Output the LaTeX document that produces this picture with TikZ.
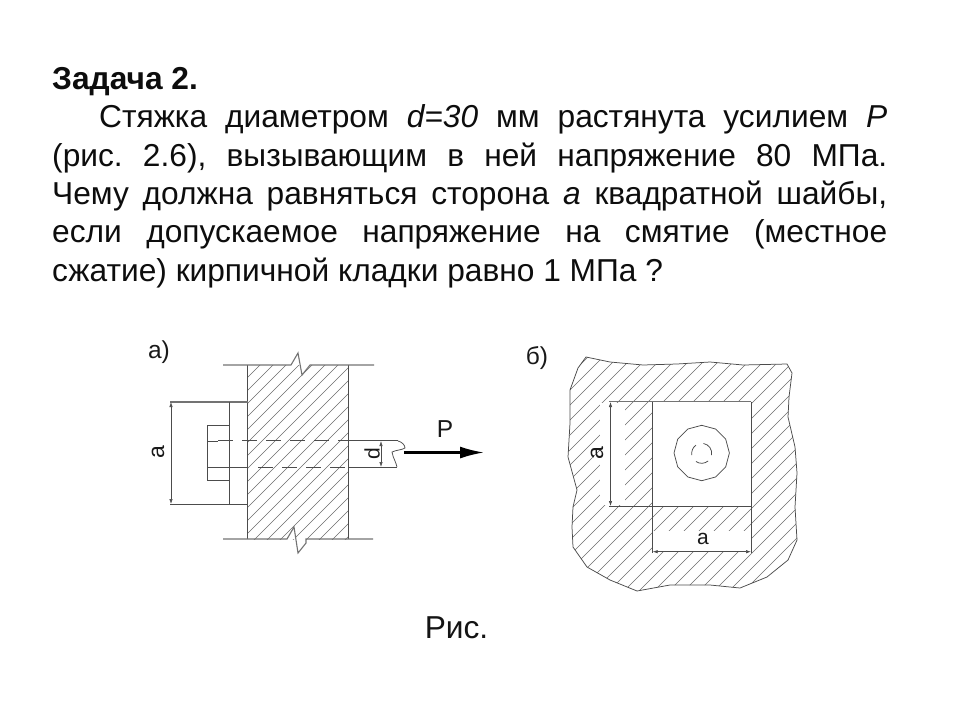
\documentclass[tikz,border=0pt]{standalone}
\usepackage{fontspec}
\setmainfont{Liberation Sans}
\usetikzlibrary{arrows.meta}
\tikzset{
  thin line/.style={draw=black!70,line width=0.75pt},
  edge line/.style={draw=black!55,line width=1.1pt},
  hatch line/.style={draw=black!58,line width=0.55pt},
  dim line/.style={draw=black!70,line width=0.7pt,{Latex[length=5pt,width=3.5pt]}-{Latex[length=5pt,width=3.5pt]}},
  hidden line/.style={draw=black!70,line width=0.75pt,dash pattern=on 15pt off 9pt},
  label text/.style={font=\fontsize{21}{22}\selectfont,text=black!90,inner sep=0pt},
  side text/.style={font=\fontsize{24.5}{26}\selectfont,text=black!90,inner sep=0pt},
  body text/.style={font=\fontsize{31.7}{38.4}\selectfont\frenchspacing,text=black!95,inner sep=0pt,text width=835pt,align=justify,anchor=north west}
}
\begin{document}
\begin{tikzpicture}[x=1pt,y=-1pt]
\useasboundingbox (0,0) rectangle (960,720);
\node[body text] (task) at (52,67) {\textbf{Задача 2.}\par
\hspace*{47pt}Стяжка диаметром \textit{d=30} мм растянута усилием \textit{Р}\linebreak
(рис. 2.6), вызывающим в ней напряжение 80 МПа.\linebreak
Чему должна равняться сторона \textit{а} квадратной шайбы,\linebreak
если допускаемое напряжение на смятие (местное\linebreak
сжатие) кирпичной кладки равно 1 МПа ?\par};
\node[font=\fontsize{31.7}{34}\selectfont,text=black!92,inner sep=0pt,anchor=base] (fig) at (456.5,638) {Рис.};

% --- part a
\begin{scope}
\clip (247.5,365) rectangle (348,539);
\foreach \c in {612,625,...,900} \draw[hatch line] (\c,0) -- (\c-720,720);
\end{scope}
\fill[white] (291,350) -- (298,353) -- (302,375) -- (310,365) -- (310,350) -- cycle;
\fill[white] (287,539) -- (294,527) -- (298,553) -- (306,539) -- cycle;
\draw[thin line] (247.5,365) -- (247.5,539) (348,365) -- (348,539);
\draw[edge line] (223,365) -- (291,365) -- (298,353) -- (302,375) -- (310,365) -- (374,365);
\draw[edge line] (223,539) -- (287,539) -- (294,527) -- (298,553) -- (306,543) -- (306,539) -- (373,539);
\coordinate (aT) at (171,402);
\coordinate (aB) at (171,504);
\draw[edge line] (170,402) -- (247.5,402);
\draw[thin line,line width=0.9pt] (170,504) -- (248,504);
\draw[thin line] (229,402) -- (229,504);
\draw[thin line] (229,425) -- (207.5,425) -- (207.5,480) -- (229,480);
\draw[thin line] (207.5,441) -- (218,441);
\draw[thin line] (207.5,467) -- (248,467);
\draw[hidden line] (218,440.5) -- (348,440.5);
\draw[hidden line] (258,467) -- (348,467);
\draw[thin line] (348,440.5) -- (398,440.5) (348,467) -- (397,467);
\draw[thin line] (398,441) .. controls (402,442) and (405,445) .. (405,448) .. controls (402,450) and (396,450) .. (392,452) .. controls (393,458) and (396,462) .. (397,467);
\draw[dim line] (aT) -- (aB);
\coordinate (dT) at (381,441);
\coordinate (dB) at (381,467);
\draw[dim line] (dT) -- (dB);
\node[label text,font=\fontsize{23}{24}\selectfont,rotate=90] (la) at (158,452) {а};
\node[label text,font=\fontsize{21}{22}\selectfont,rotate=90] (ld) at (372,454) {d};
\coordinate (pS) at (404,452.5);
\coordinate (pE) at (484,452.5);
\draw[line width=2.2pt,black,-{Latex[length=24pt,width=12pt]}] (pS) -- (pE);
\node[side text] (lp) at (445,429) {Р};
\node[side text] (lA) at (159,352) {а)};
\node[side text] (lB) at (537,358) {б)};

% --- part b
\def\outline{(586,357) -- (610,362) -- (643,365) -- (677,364) -- (710,362) -- (743,365) -- (787,364) -- (792,373) -- (789,397) -- (788,417) -- (795,447) -- (797,473) -- (795,507) -- (797,540) -- (788,560) -- (767,577) -- (740,588) -- (710,585) -- (670,585) -- (637,591) -- (610,580) -- (587,567) -- (573,547) -- (572,527) -- (573,507) -- (577,490) -- (568,457) -- (570,423) -- (570,390) -- (578,368) -- cycle}
\begin{scope}
\clip \outline;
\foreach \c in {915,930,...,1400} \draw[hatch line] (\c,0) -- (\c-720,720);
\end{scope}
\fill[white] (652.7,401.7) rectangle (751,506);
\fill[white] (600,403) rectangle (625,505);
\fill[white] (653,531) rectangle (751,551);
\draw[thin line] \outline;
\draw[thin line] (652.7,401.7) -- (652.7,553) (751,401.7) -- (751,553);
\draw[edge line] (609,401.7) -- (751,401.7);
\draw[thin line,line width=0.9pt] (609,506) -- (751,506);
\coordinate (bL1) at (610.5,402);
\coordinate (bL2) at (610.5,506);
\coordinate (bB1) at (652.7,551.7);
\coordinate (bB2) at (751,551.7);
\draw[dim line] (bL1) -- (bL2);
\draw[dim line] (bB1) -- (bB2);
\node[label text,font=\fontsize{23}{24}\selectfont,rotate=90] (lc) at (597,453) {а};
\node[label text] (le) at (703,539) {а};
\draw[thin line] (701.7,453)+(0:27.7) -- +(30:27.7) -- +(60:27.7) -- +(90:27.7) -- +(120:27.7) -- +(150:27.7) -- +(180:27.7) -- +(210:27.7) -- +(240:27.7) -- +(270:27.7) -- +(300:27.7) -- +(330:27.7) -- cycle;
\draw[thin line] (701.7,453.3) ++(170:10) arc[start angle=170,end angle=235,radius=10];
\draw[thin line] (701.7,453.3) ++(280:10) arc[start angle=280,end angle=370,radius=10];
\draw[thin line] (701.7,453.3) ++(50:10) arc[start angle=50,end angle=125,radius=10];
\end{tikzpicture}
\end{document}
